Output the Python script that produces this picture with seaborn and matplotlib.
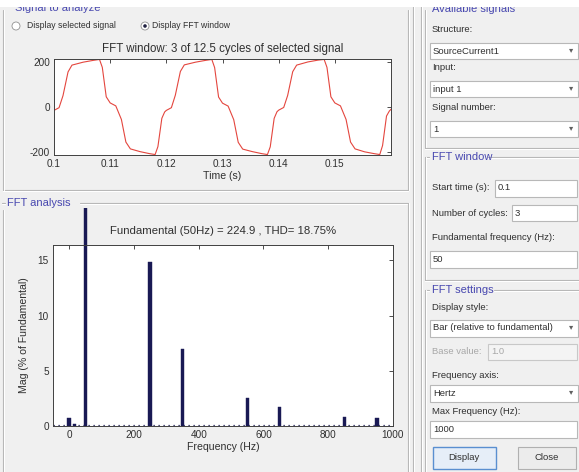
import numpy as np
import pandas as pd
import matplotlib
matplotlib.use("Agg")
import matplotlib.pyplot as plt
import seaborn as sns
from matplotlib.patches import Rectangle, Ellipse
from matplotlib.lines import Line2D
from matplotlib.transforms import Bbox, TransformedBbox

# ---------------- data ----------------
time_s = [0.1000, 0.1009, 0.1016, 0.1025, 0.1032, 0.1052, 0.1070, 0.1081, 0.1086, 0.1093,
          0.1100, 0.1110, 0.1120, 0.1128, 0.1136, 0.1153, 0.1170, 0.1180, 0.1185, 0.1192, 0.1197,
          0.1200, 0.1209, 0.1216, 0.1225, 0.1232, 0.1252, 0.1270, 0.1281, 0.1286, 0.1293,
          0.1300, 0.1310, 0.1320, 0.1328, 0.1336, 0.1353, 0.1370, 0.1380, 0.1385, 0.1392, 0.1397,
          0.1400, 0.1409, 0.1416, 0.1425, 0.1432, 0.1452, 0.1470, 0.1481, 0.1486, 0.1493,
          0.1500, 0.1510, 0.1520, 0.1528, 0.1536, 0.1553, 0.1570, 0.1580, 0.1585, 0.1592, 0.1597, 0.1600]
current_a = [-15, -3, 50, 155, 185, 198, 206, 210, 175, 45,
             18, 5, -55, -155, -185, -197, -206, -210, -175, -50, -22,
             -15, -3, 52, 157, 186, 198, 206, 210, 174, 44,
             17, 4, -56, -156, -186, -197, -206, -210, -176, -50, -21,
             -14, -2, 51, 156, 185, 199, 207, 210, 175, 45,
             18, 5, -55, -155, -185, -198, -206, -210, -170, -40, -18, -10]

freq_hz = [0, 16.7, 50, 250, 350, 550, 650, 850, 950]
mag_pct = [0.75, 0.2, 100, 14.9, 7.0, 2.55, 1.7, 0.85, 0.7]

time_ticks = [0.10, 0.11, 0.12, 0.13, 0.14, 0.15]
time_ticklabels = ["0.1", "0.11", "0.12", "0.13", "0.14", "0.15"]
sig_ticks = [-200, 0, 200]
freq_ticks = [0, 200, 400, 600, 800, 1000]
mag_ticks = [0, 5, 10, 15]

# ---------------- figure ----------------
W, H = 579, 472
sns.set_theme(style="white")
plt.rcParams["font.family"] = ["Liberation Sans", "DejaVu Sans"]
plt.rcParams["axes.unicode_minus"] = False
BG = "#f0f0f0"
TXT = "#303030"
BLUE = "#4848b0"
fig = plt.figure(figsize=(W / 100, H / 100), dpi=100, facecolor=BG)


def fx(x):
    return x / W


def fy(y):
    return 1 - y / H


def rect(l, t, r, b):
    return [l / W, 1 - b / H, (r - l) / W, (b - t) / H]


def ftext(x, y, s, size=6.8, color=TXT, ha="left", **kw):
    fig.text(fx(x), fy(y), s, fontsize=size, color=color, ha=ha, va="center", **kw)


def etched_h(x0, x1, y):
    fig.add_artist(Line2D([fx(x0), fx(x1)], [fy(y), fy(y)], color="#b4b4b4", lw=0.8))
    fig.add_artist(Line2D([fx(x0), fx(x1)], [fy(y + 1), fy(y + 1)], color="white", lw=0.8))


def etched_v(x, y0, y1):
    fig.add_artist(Line2D([fx(x), fx(x)], [fy(y0), fy(y1)], color="#b4b4b4", lw=0.8))
    fig.add_artist(Line2D([fx(x + 1), fx(x + 1)], [fy(y0), fy(y1)], color="white", lw=0.8))


def box(l, t, r, b, edge="#b8b8b8", face="white", lw=0.8):
    fig.add_artist(Rectangle((fx(l), fy(b)), (r - l) / W, (b - t) / H,
                             transform=fig.transFigure, facecolor=face, edgecolor=edge, lw=lw))


def radio(x, y, on):
    fig.add_artist(Ellipse((fx(x), fy(y)), 8 / W, 8 / H, transform=fig.transFigure,
                           facecolor="white", edgecolor="#909090", lw=0.6))
    if on:
        fig.add_artist(Ellipse((fx(x), fy(y)), 3.6 / W, 3.6 / H, transform=fig.transFigure,
                               facecolor="#202040", edgecolor="none"))


# ---------------- top axes: signal ----------------
ax1 = fig.add_axes(rect(54, 59, 391, 155))
sns.lineplot(x=time_s, y=current_a, ax=ax1, color="#e4463e", lw=0.8)
ax1.set_xlim(0.1, 0.16)
ax1.set_ylim(-212, 212)
ax1.set_xticks(time_ticks)
ax1.set_xticklabels(time_ticklabels)
ax1.set_yticks(sig_ticks)
ax1.set_xlabel("Time (s)", fontsize=7.6, color=TXT, labelpad=1)
ax1.set_title("FFT window: 3 of 12.5 cycles of selected signal", fontsize=8.3, color=TXT, pad=5)

# ---------------- bottom axes: FFT bars ----------------
ax2 = fig.add_axes(rect(53, 245, 393, 426))
df = pd.DataFrame({"freq": freq_hz, "mag": mag_pct})
sns.barplot(data=df, x="freq", y="mag", ax=ax2, native_scale=True, width=0.65,
            color="#191954", saturation=1, errorbar=None, edgecolor="#191954", linewidth=0.3)
ax2.set_xlim(-50, 1000)
ax2.set_ylim(0, 16.4)
ax2.set_xticks(freq_ticks)
ax2.set_yticks(mag_ticks)
ax2.set_xlabel("Frequency (Hz)", fontsize=7.6, color=TXT, labelpad=1)
ax2.set_ylabel("Mag (% of Fundamental)", fontsize=7.6, color=TXT, labelpad=6)
ax2.set_title("Fundamental (50Hz) = 224.9 , THD= 18.75%", fontsize=8.2, color=TXT, pad=8)
ax2.axhline(0.12, color="#191954", lw=0.9, ls=(0, (1, 3)))
clipbb = TransformedBbox(Bbox.from_extents(0, fy(426), 1, fy(208)), fig.transFigure)
for p in ax2.patches:
    if p.get_height() > 20:
        p.set_clip_path(None)
        p.set_clip_box(clipbb)

for ax in (ax1, ax2):
    ax.set_facecolor("white")
    ax.tick_params(direction="in", length=3, width=0.6, labelsize=7.2, colors=TXT,
                   top=True, right=True, pad=3)
    for s in ax.spines.values():
        s.set_color("#404040")
        s.set_linewidth(0.7)

# ---------------- GUI decorations (left) ----------------
ftext(15, 8, "Signal to analyze", size=8, color=BLUE)
etched_h(3, 408, 190)
etched_v(3, 10, 190)
etched_v(408, 10, 190)
radio(16, 26, False)
ftext(27, 26, "Display selected signal", size=6.2)
radio(145, 26, True)
ftext(152, 26, "Display FFT window", size=6.2)

ftext(7, 203, "FFT analysis", size=8, color=BLUE)
etched_h(2, 5, 203)
etched_h(80, 408, 203)
etched_v(3, 210, 472)
etched_v(408, 203, 472)

# ---------------- GUI decorations (right) ----------------
etched_v(413, 0, 472)
etched_v(421, 0, 472)
ftext(432, 9, "Available signals", size=8, color=BLUE)
etched_v(425, 10, 148)
etched_h(425, 579, 148)

ftext(432, 29, "Structure:")
box(430, 43, 578, 59)
ftext(433, 51, "SourceCurrent1")
ftext(571, 51, "▾", size=6, color="#606060", ha="center")
ftext(432, 68, "Input:")
box(430, 81, 578, 97)
ftext(433, 89, "input 1")
ftext(571, 89, "▾", size=6, color="#606060", ha="center")
ftext(432, 107, "Signal number:")
box(430, 121, 578, 137)
ftext(433, 129, "1")
ftext(571, 129, "▾", size=6, color="#606060", ha="center")

ftext(432, 157, "FFT window", size=8, color=BLUE)
etched_h(425, 429, 157)
etched_h(488, 579, 157)
etched_v(425, 157, 280)
etched_h(425, 579, 280)
ftext(432, 188, "Start time (s):")
box(495, 180, 577, 197)
ftext(498, 188, "0.1")
ftext(432, 213, "Number of cycles:")
box(512, 205, 577, 221)
ftext(515, 213, "3")
ftext(432, 238, "Fundamental frequency (Hz):")
box(430, 251, 577, 268)
ftext(433, 260, "50")

ftext(432, 290, "FFT settings", size=8, color=BLUE)
etched_h(425, 429, 290)
etched_h(494, 579, 290)
etched_v(425, 290, 472)
ftext(432, 307, "Display style:")
box(430, 320, 578, 337)
ftext(433, 328, "Bar (relative to fundamental)")
ftext(571, 328, "▾", size=6, color="#606060", ha="center")
ftext(432, 352, "Base value:", color="#a8a8a8")
box(488, 344, 577, 360, face="#f4f4f4", edge="#c8c8c8")
ftext(491, 352, "1.0", color="#a8a8a8")
ftext(432, 375, "Frequency axis:")
box(430, 385, 578, 402)
ftext(433, 393, "Hertz")
ftext(571, 393, "▾", size=6, color="#606060", ha="center")
ftext(432, 412, "Max Frequency (Hz):")
box(430, 421, 577, 438)
ftext(433, 430, "1000")
box(433, 447, 496, 469, edge="#5a8fd0", face="#e6eef8", lw=1.0)
ftext(464, 458, "Display", ha="center")
box(518, 447, 576, 469, edge="#b0b0b0", face="#ececec")
ftext(547, 458, "Close", ha="center")

# white band at the very top (screenshot cut)
fig.add_artist(Rectangle((0, fy(7)), 1, 7 / H, transform=fig.transFigure,
                         facecolor="white", edgecolor="none", zorder=10))

fig.savefig("out.png", dpi=100, facecolor=BG)
